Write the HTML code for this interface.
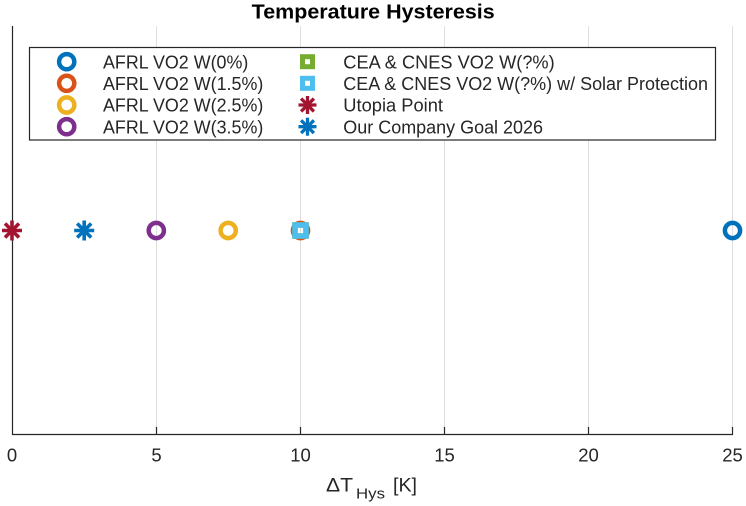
<!DOCTYPE html>
<html><head><meta charset="utf-8"><style>
html,body{margin:0;padding:0;background:#fff;}
svg{display:block;}
text{font-family:"Liberation Sans",Arial,sans-serif;fill:#262626;}
</style></head><body>
<svg width="746" height="506" viewBox="0 0 746 506" xmlns="http://www.w3.org/2000/svg">
<rect width="746" height="506" fill="#fff"/>
<!-- grid -->
<g stroke="#dfdfdf" stroke-width="1">
<line x1="156.5" y1="26" x2="156.5" y2="435"/>
<line x1="300.5" y1="26" x2="300.5" y2="435"/>
<line x1="444.5" y1="26" x2="444.5" y2="435"/>
<line x1="588.5" y1="26" x2="588.5" y2="435"/>
<line x1="732.5" y1="26" x2="732.5" y2="435"/>
</g>
<!-- axes -->
<g stroke="#262626" stroke-width="1.2" fill="none">
<line x1="12.5" y1="26" x2="12.5" y2="435"/>
<line x1="12" y1="434.5" x2="733" y2="434.5"/>
<line x1="156.5" y1="427" x2="156.5" y2="435"/>
<line x1="300.5" y1="427" x2="300.5" y2="435"/>
<line x1="444.5" y1="427" x2="444.5" y2="435"/>
<line x1="588.5" y1="427" x2="588.5" y2="435"/>
<line x1="732.5" y1="427" x2="732.5" y2="435"/>
</g>
<!-- tick labels -->
<g font-size="18.5" text-anchor="middle">
<text x="12" y="461.7">0</text>
<text x="156.5" y="461.7">5</text>
<text x="300.5" y="461.7">10</text>
<text x="444.5" y="461.7">15</text>
<text x="588.5" y="461.7">20</text>
<text x="732.5" y="461.7">25</text>
</g>
<!-- xlabel -->
<text x="326" y="491.5" font-size="19" textLength="27" lengthAdjust="spacingAndGlyphs">ΔT</text>
<text x="356" y="498.3" font-size="14.5" textLength="29" lengthAdjust="spacingAndGlyphs">Hys</text>
<text x="393" y="491.5" font-size="19" textLength="24" lengthAdjust="spacingAndGlyphs">[K]</text>
<!-- title -->
<text x="251.7" y="18.3" font-size="20.5" font-weight="bold" fill="#000" style="fill:#000" textLength="243" lengthAdjust="spacingAndGlyphs">Temperature Hysteresis</text>
<!-- data -->
<g fill="none" stroke-width="4.5">
<circle cx="732.5" cy="230.5" r="7.6" stroke="#0072BD"/>
<circle cx="300.5" cy="230.5" r="7.6" stroke="#D95319"/>
<circle cx="228.2" cy="230.5" r="7.6" stroke="#EDB120"/>
<circle cx="156.3" cy="230.5" r="7.6" stroke="#7E2F8E"/>
<rect x="295" y="225" width="11" height="11" stroke="#77AC30" stroke-width="5.5"/>
<rect x="295" y="225" width="11" height="11" stroke="#4DBEEE" stroke-width="5.5"/>
</g>
<g stroke-width="3.6" stroke-linecap="butt">
<g stroke="#A2142F" transform="translate(12,230.5)">
<line x1="-10" y1="0" x2="10" y2="0"/><line x1="0" y1="-10" x2="0" y2="10"/>
<line x1="-7" y1="-7" x2="7" y2="7"/><line x1="-7" y1="7" x2="7" y2="-7"/>
</g>
<g stroke="#0072BD" transform="translate(84.2,230.5)">
<line x1="-10" y1="0" x2="10" y2="0"/><line x1="0" y1="-10" x2="0" y2="10"/>
<line x1="-7" y1="-7" x2="7" y2="7"/><line x1="-7" y1="7" x2="7" y2="-7"/>
</g>
</g>
<!-- legend -->
<rect x="29.5" y="47.5" width="686" height="92.5" fill="#fff" stroke="#262626" stroke-width="1.2"/>
<g fill="none" stroke-width="4.5">
<circle cx="66.7" cy="61.7" r="7.6" stroke="#0072BD"/>
<circle cx="66.7" cy="83.3" r="7.6" stroke="#D95319"/>
<circle cx="66.7" cy="105" r="7.6" stroke="#EDB120"/>
<circle cx="66.7" cy="126.7" r="7.6" stroke="#7E2F8E"/>
<rect x="302.5" y="56.7" width="10" height="10" stroke="#77AC30" stroke-width="5"/>
<rect x="302.5" y="78.3" width="10" height="10" stroke="#4DBEEE" stroke-width="5"/>
</g>
<g stroke-width="3.3">
<g stroke="#A2142F" transform="translate(307.5,105)">
<line x1="-9" y1="0" x2="9" y2="0"/><line x1="0" y1="-9" x2="0" y2="9"/>
<line x1="-6.4" y1="-6.4" x2="6.4" y2="6.4"/><line x1="-6.4" y1="6.4" x2="6.4" y2="-6.4"/>
</g>
<g stroke="#0072BD" transform="translate(307.5,126.7)">
<line x1="-9" y1="0" x2="9" y2="0"/><line x1="0" y1="-9" x2="0" y2="9"/>
<line x1="-6.4" y1="-6.4" x2="6.4" y2="6.4"/><line x1="-6.4" y1="6.4" x2="6.4" y2="-6.4"/>
</g>
</g>
<g font-size="18">
<text x="103" y="68.3" textLength="145.3" lengthAdjust="spacingAndGlyphs">AFRL VO2 W(0%)</text>
<text x="103" y="90" textLength="160.3" lengthAdjust="spacingAndGlyphs">AFRL VO2 W(1.5%)</text>
<text x="103" y="111.7" textLength="160.3" lengthAdjust="spacingAndGlyphs">AFRL VO2 W(2.5%)</text>
<text x="103" y="133.3" textLength="160.3" lengthAdjust="spacingAndGlyphs">AFRL VO2 W(3.5%)</text>
<text x="343.3" y="68.3" textLength="211.4" lengthAdjust="spacingAndGlyphs">CEA &amp; CNES VO2 W(?%)</text>
<text x="343.3" y="90" textLength="364.7" lengthAdjust="spacingAndGlyphs">CEA &amp; CNES VO2 W(?%) w/ Solar Protection</text>
<text x="343.3" y="111.7" textLength="99.7" lengthAdjust="spacingAndGlyphs">Utopia Point</text>
<text x="343.3" y="133.3" textLength="199.7" lengthAdjust="spacingAndGlyphs">Our Company Goal 2026</text>
</g>
</svg>
</body></html>
